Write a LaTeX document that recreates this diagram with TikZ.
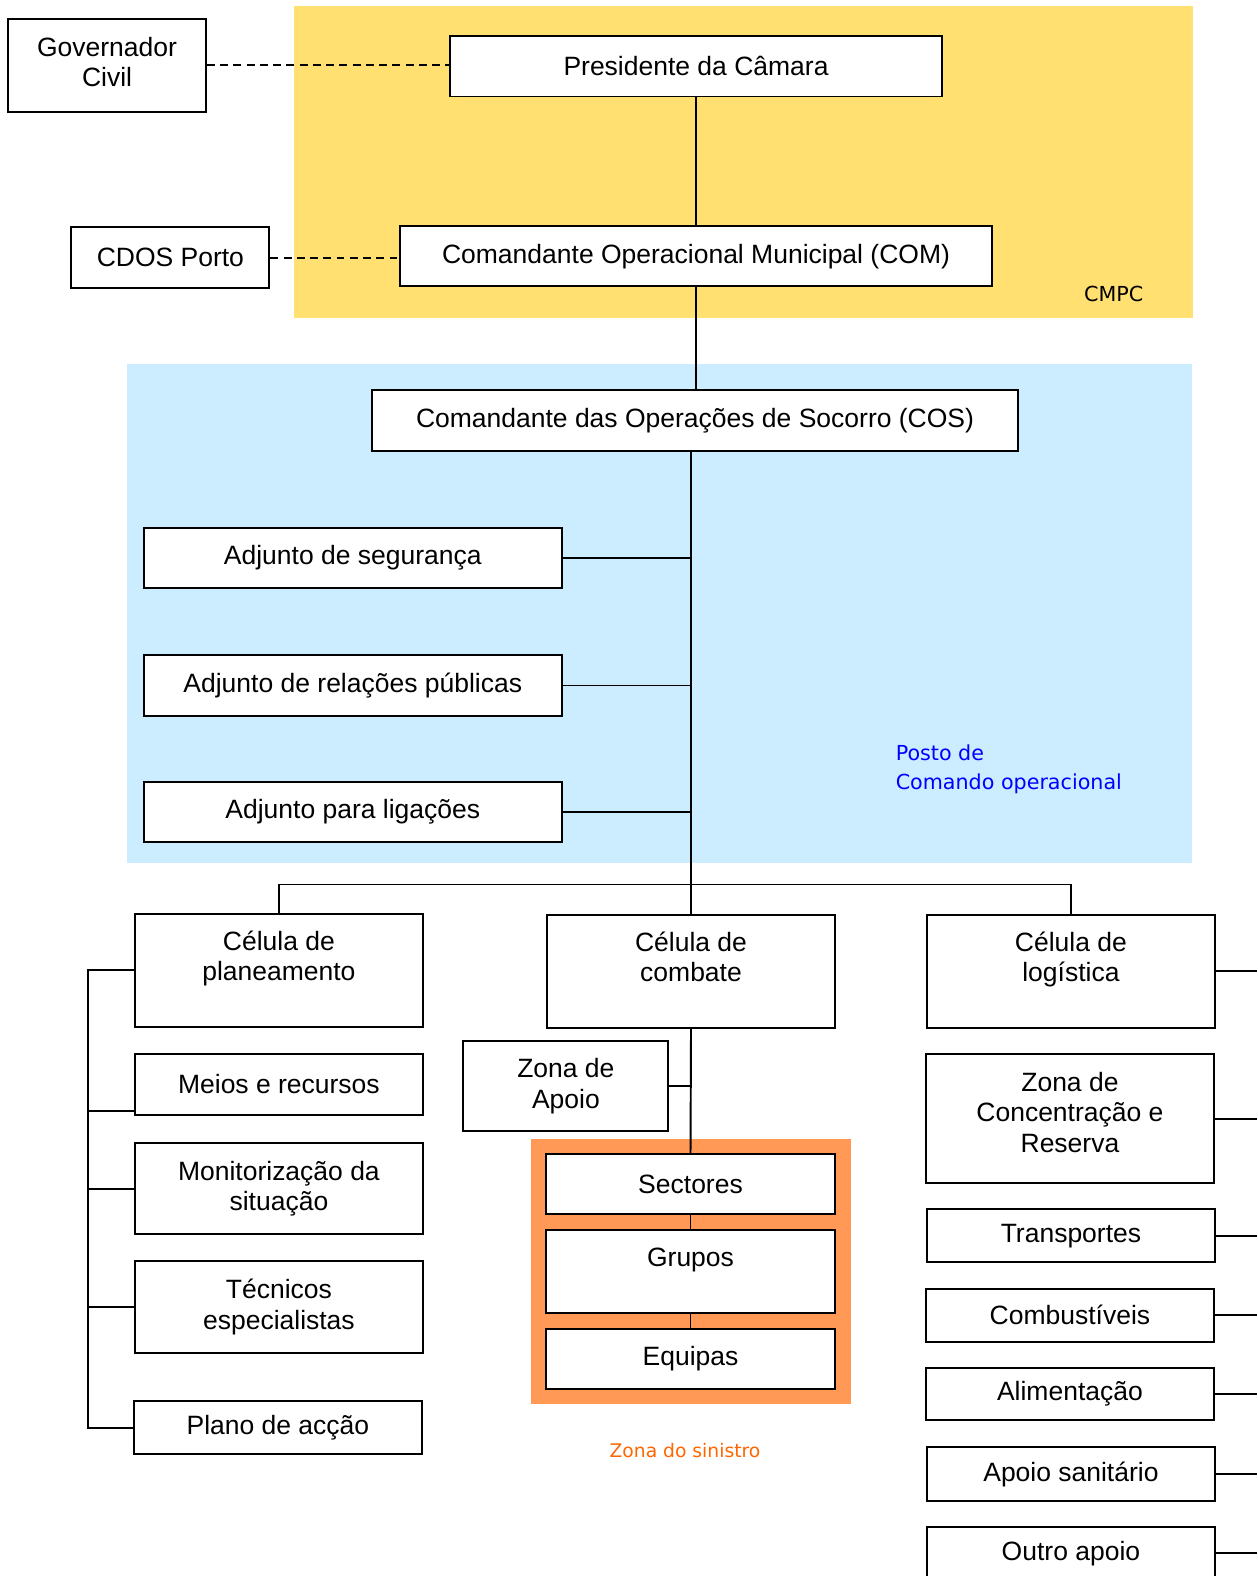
\documentclass[tikz,border=0pt]{standalone}
\usepackage{fontspec}
\setmainfont{Liberation Sans}
\newfontfamily\zonefont{DejaVu Sans}
\definecolor{cmpcyellow}{RGB}{255,224,112}
\definecolor{postoblue}{RGB}{204,236,255}
\definecolor{sinistro}{RGB}{255,153,85}
\definecolor{sinistrotext}{RGB}{255,102,0}

\begin{document}
\begin{tikzpicture}[x=0.02cm,y=-0.02cm,
    every node/.style={font=\fontsize{15}{17.3}\selectfont,align=center},
    box/.style={draw,line width=1.1pt,fill=white,inner sep=2pt},
    cell/.style={box,minimum width=5.74cm},
    link/.style={line width=1.1pt},
    dashlink/.style={line width=1pt,dash pattern=on 4.5pt off 3pt},
    zonelabel/.style={font=\zonefont\fontsize{11.7}{16.4}\selectfont}]
    \clip (0,0) rectangle (1251,1568);
    % zonas
    \fill[cmpcyellow] (293,6) rectangle (1187,316);
    \fill[postoblue] (126,362) rectangle (1186,859);
    \fill[sinistro] (528,1133) rectangle (847,1397);
    \node[zonelabel] (cmpc) at (1108,292) {CMPC};
    \node[zonelabel,text=blue,align=left,anchor=west] (posto) at (885,765) {Posto de\\Comando operacional};
    \node[zonelabel,font=\zonefont\fontsize{10.6}{14}\selectfont,text=sinistrotext] (zsin) at (681.5,1443) {Zona do sinistro};

    % topo
    \node[box,minimum width=3.94cm,minimum height=1.84cm] (gov) at (106.5,65) {Governador\\Civil\\[-18.5pt]\strut};
    \node[box,minimum width=9.78cm,minimum height=1.2cm] (pres) at (692.5,66) {Presidente da Câmara};
    \node[box,minimum width=3.94cm,minimum height=1.22cm] (cdos) at (169.5,256.5) {CDOS Porto};
    \node[box,minimum width=11.78cm,minimum height=1.2cm] (com) at (692.5,255) {Comandante Operacional Municipal (COM)};
    \node[box,minimum width=12.86cm,minimum height=1.22cm] (cos) at (691.5,418.5) {Comandante das Operações de Socorro (COS)};

    % adjuntos
    \node[box,minimum width=8.32cm,minimum height=1.2cm] (seg) at (351,555) {Adjunto de segurança};
    \node[box,minimum width=8.32cm,minimum height=1.2cm] (relpub) at (351,682) {Adjunto de relações públicas};
    \node[box,minimum width=8.32cm,minimum height=1.2cm] (lig) at (351,808) {Adjunto para ligações};

    % celulas
    \node[cell,minimum height=2.26cm] (plan) at (277.5,965.5) {Célula de\\planeamento\\[-5.7pt]\strut};
    \node[cell,minimum height=2.26cm] (comb) at (687.5,966.5) {Célula de\\combate\\[-5.7pt]\strut};
    \node[cell,minimum height=2.26cm] (logi) at (1065.5,966.5) {Célula de\\logística\\[-5.7pt]\strut};

    \node[cell,minimum height=1.2cm] (meios) at (277.5,1079) {Meios e recursos};
    \node[cell,minimum height=1.82cm] (monit) at (277.5,1182.5) {Monitorização da\\situação};
    \node[cell,minimum height=1.82cm] (tecn) at (277.5,1300.5) {Técnicos\\especialistas};
    \node[cell,minimum height=1.06cm] (plano) at (276.5,1420.5) {Plano de acção};

    \node[box,minimum width=4.08cm,minimum height=1.78cm] (zapoio) at (563,1080.5) {Zona de\\Apoio};
    \node[box,minimum width=5.76cm,minimum height=1.2cm] (sect) at (687,1178) {Sectores};
    \node[box,minimum width=5.76cm,minimum height=1.64cm] (grup) at (687,1265) {Grupos\\[-6.8pt]\strut};
    \node[box,minimum width=5.76cm,minimum height=1.2cm] (equi) at (687,1352) {Equipas};

    \node[cell,minimum height=2.56cm] (zcr) at (1064.5,1113) {Zona de\\Concentração e\\Reserva\\[-15.1pt]\strut};
    \node[cell,minimum height=1.06cm] (transp) at (1065.5,1229.5) {Transportes};
    \node[cell,minimum height=1.06cm] (combust) at (1064.5,1308.5) {Combustíveis};
    \node[cell,minimum height=1.04cm] (alim) at (1064.5,1387) {Alimentação};
    \node[cell,minimum height=1.06cm] (sanit) at (1065.5,1466.5) {Apoio sanitário};
    \node[cell,minimum height=1.06cm] (outro) at (1065.5,1545.5) {Outro apoio};

    \coordinate (bus) at (688,880);
    \coordinate (pbus) at (88,0);
    \coordinate (rbus) at (1251,0);
    \coordinate (meiosin) at ([yshift=1mm]meios.south west);

    % ligacoes
    \draw[dashlink] (gov.east) -- (gov.east -| pres.west);
    \draw[dashlink] (cdos.east) -- (cdos.east -| com.west);
    \draw[link] (pres.south) -- (com.north);
    \draw[link] (com.south) -- (com.south |- cos.north);
    \draw[link] (cos.south -| comb.north) -- (comb.north);
    \foreach \n in {seg,relpub,lig}
        \draw[link] (\n.east) -- (\n.east -| comb.north);
    \draw[link] (plan.north) |- (bus) -| (logi.north);
    \draw[link] (plan.west) -- (pbus |- plan.west) -- (pbus |- plano.west) -- (plano.west);
    \draw[link] (meiosin) -- (pbus |- meiosin);
    \foreach \n in {monit,tecn}
        \draw[link] (\n.west) -- (pbus |- \n.west);
    \draw[link] (comb.south) -- (sect.north);
    \draw[link] (zapoio.east) -- (zapoio.east -| comb.south);
    \draw[link] (sect.south) -- (grup.north);
    \draw[link] (grup.south) -- (equi.north);
    \foreach \n in {logi,zcr,transp,combust,alim,sanit,outro}
        \draw[link] (\n.east) -- (\n.east -| rbus);
\end{tikzpicture}
\end{document}
